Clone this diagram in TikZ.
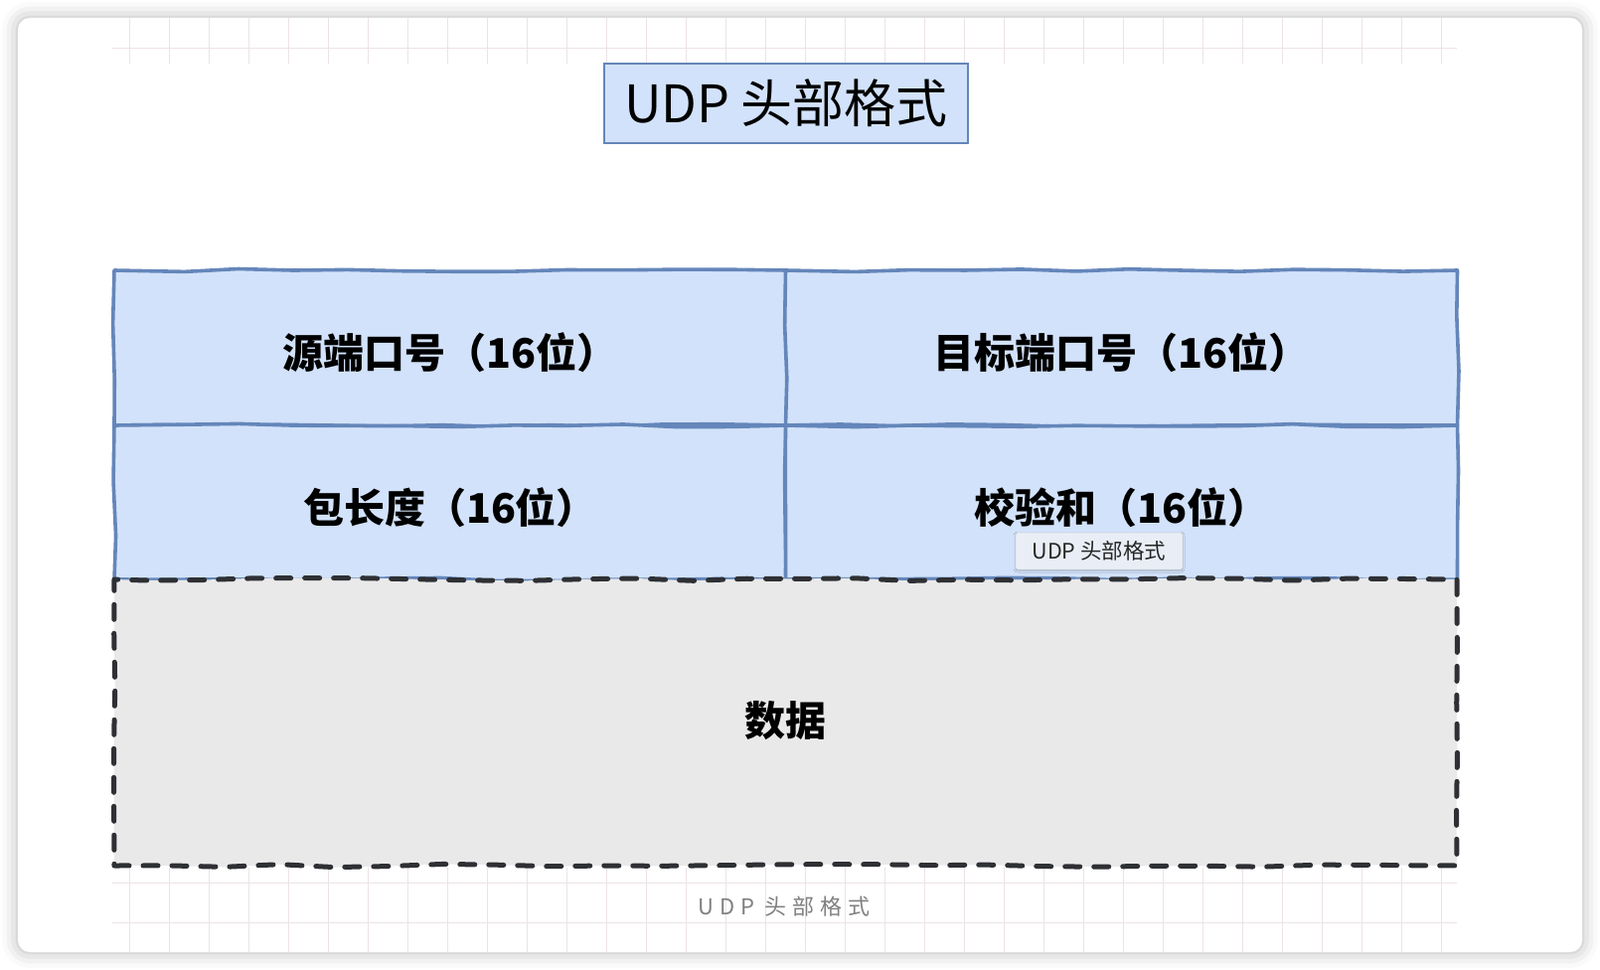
\documentclass[tikz,border=0pt]{standalone}
\usepackage{fontspec}
\setmainfont{Noto Sans CJK SC}
\newfontfamily\capfont[LetterSpace=26]{Noto Sans CJK SC}
\usetikzlibrary{positioning,shadows.blur,decorations.pathmorphing}
\definecolor{cellfill}{RGB}{210,226,250}
\definecolor{cellline}{RGB}{100,134,186}
\definecolor{datafill}{RGB}{233,233,233}
\definecolor{dataline}{RGB}{46,48,52}
\definecolor{gridcol}{RGB}{236,227,231}
\definecolor{tipfill}{RGB}{233,238,246}
\tikzset{card/.style={fill=white,rounded corners=12pt,
 blur shadow={shadow blur radius=16pt,shadow xshift=0pt,shadow yshift=0pt,shadow opacity=30}},
 gridline/.style={draw=gridcol,line width=0.8pt},
 headbox/.style={draw=cellline,fill=cellfill,line width=1.8pt,minimum width=366pt,
 minimum height=80pt,font=\fontsize{52pt}{58pt}\selectfont},
 sketch/.style={decorate,decoration={random steps,segment length=55pt,amplitude=1.6pt},line join=round}}
\tikzset{field/.style={sketch,draw=cellline,fill=cellfill,line width=3.6pt,minimum width=676pt,
 minimum height=156pt,text height=43pt,text depth=2pt,font=\bfseries\fontsize{41pt}{46pt}\selectfont},
 payload/.style={sketch,draw=dataline,fill=datafill,line width=5pt,dash pattern=on 15pt off 14pt,
 line cap=round,minimum width=1351pt,minimum height=288pt,font=\bfseries\fontsize{41pt}{46pt}\selectfont},
 tip/.style={draw=black!22,fill=tipfill,rounded corners=2pt,minimum width=168pt,minimum height=37pt,
 font=\fontsize{21.5pt}{25pt}\selectfont,text=black!85,
 blur shadow={shadow blur radius=2pt,shadow xshift=0pt,shadow yshift=-1pt,shadow opacity=25}},
 caption/.style={text=black!50,font=\capfont\fontsize{22pt}{26pt}\selectfont}}

\begin{document}
\begin{tikzpicture}[x=1pt,y=-1pt]
\useasboundingbox (0,0) rectangle (1610,976);
\fill[card] (18,18) rectangle (1592,958);
\draw[gridline] (113,48)--(1466,48);
\draw[gridline] (113,888)--(1466,888);
\draw[gridline] (113,928)--(1466,928);
\foreach \gx in {130,170,...,1450} {
 \draw[gridline] (\gx,18)--(\gx,64);
 \draw[gridline] (\gx,873)--(\gx,958);
}
\node[headbox] (head) at (791,104) {UDP 头部格式};
\node[field] (src) at (453,350) {源端口号（16位）};
\node[field] (dst) at (1128.5,350) {目标端口号（16位）};
\node[field,minimum height=155pt] (len) at (453,505.5) {包长度（16位）};
\node[field,minimum height=155pt] (sum) at (1128.5,505.5) {校验和（16位）};
\node[payload,text height=30pt,text depth=4pt] (data) at (790.5,727) {数据};
\node[tip] (hint) at (1106,554.5) {UDP 头部格式};
\node[caption] (cap) at (789,912) {UDP 头部格式};
\end{tikzpicture}
\end{document}
